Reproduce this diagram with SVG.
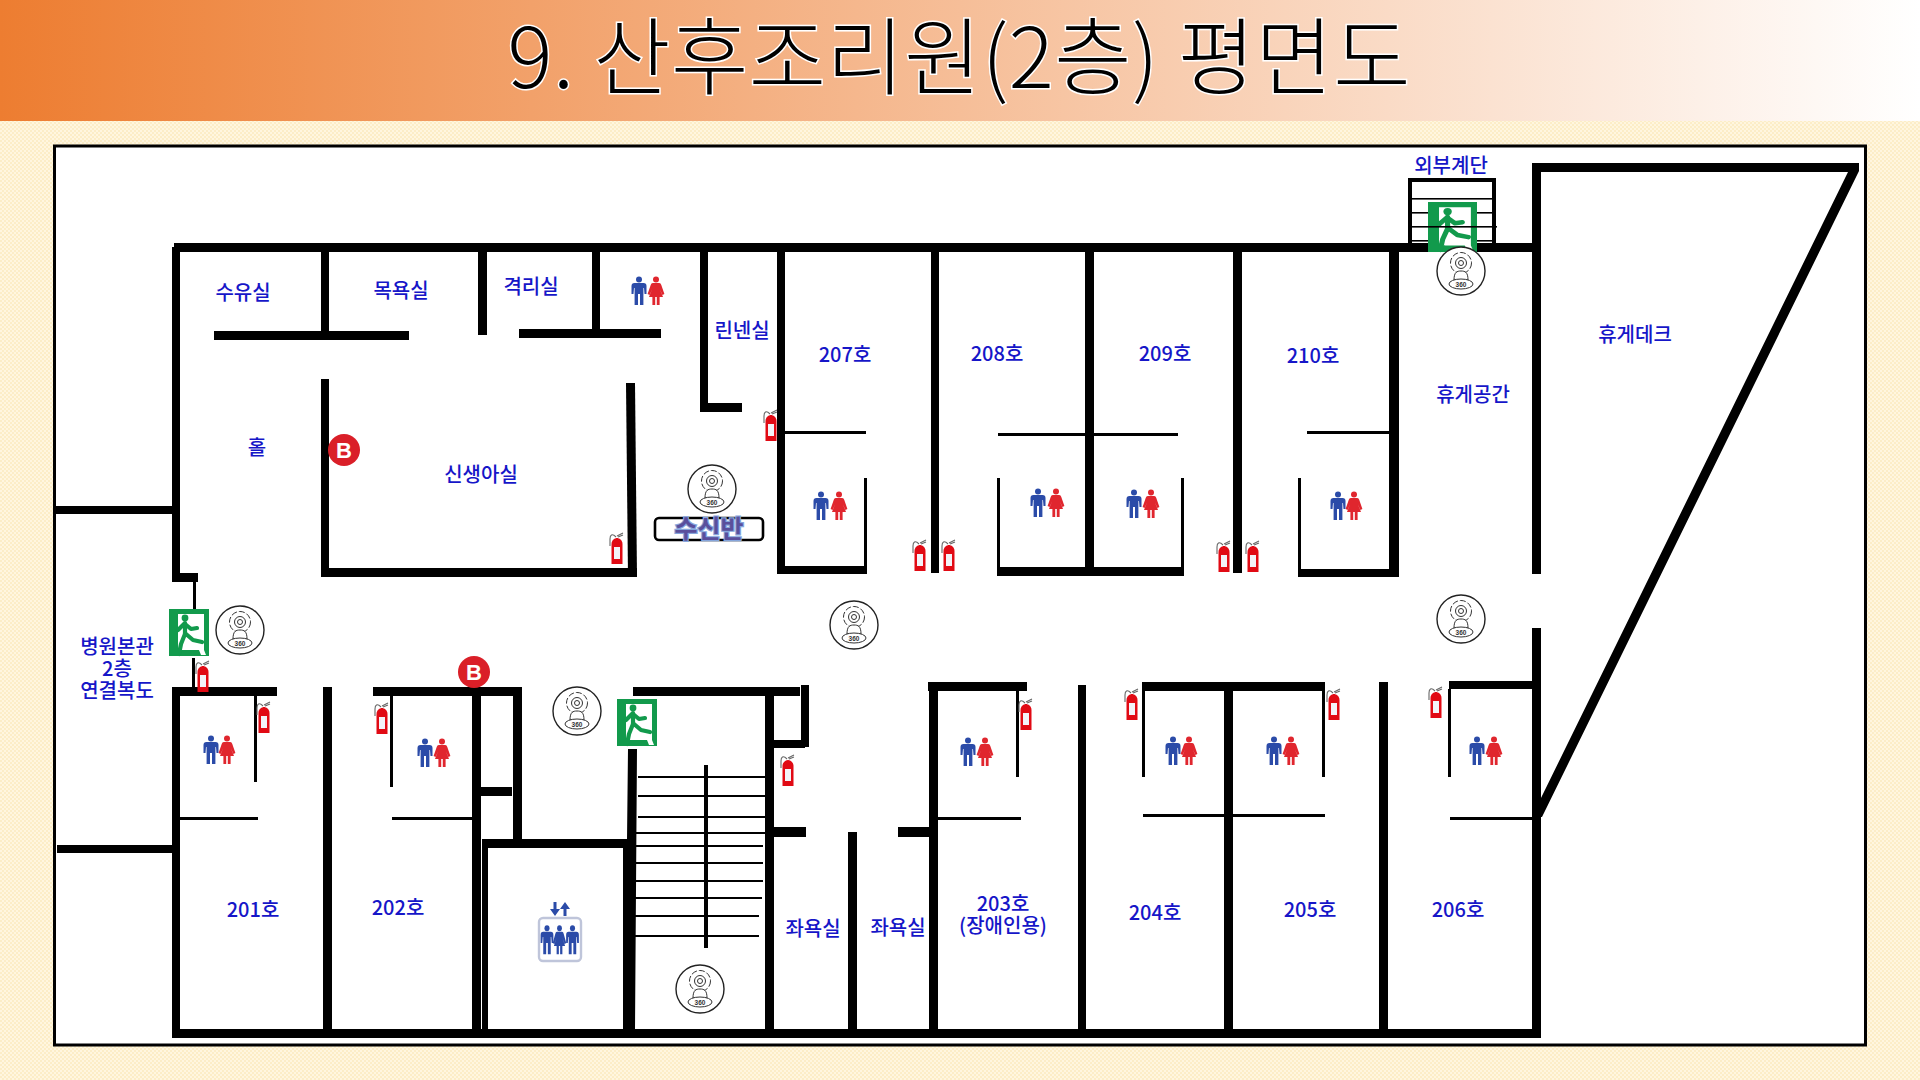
<svg xmlns="http://www.w3.org/2000/svg" xmlns:xlink="http://www.w3.org/1999/xlink" width="1920" height="1080" viewBox="0 0 1920 1080">
<style>
.lb{font-family:"Noto Sans CJK KR","Noto Sans",sans-serif;font-size:20px;font-weight:500;fill:#1616c8;text-anchor:middle}
.w{fill:#000}
</style>
<defs>
<linearGradient id="hdr" x1="0" x2="1" y1="0" y2="0"><stop offset="0" stop-color="#ED7D31"/><stop offset="1" stop-color="#FFFFFF"/></linearGradient>
<pattern id="dots" width="4" height="4" patternUnits="userSpaceOnUse"><rect width="4" height="4" fill="#FFF6DF"/><circle cx="1" cy="1" r="1" fill="#FCEBC0"/><circle cx="3" cy="3" r="1" fill="#FCEBC0"/></pattern>
<g id="cam">
<circle r="24" fill="#fff" stroke="#222" stroke-width="1.4"/>
<circle cy="-8" r="10.5" fill="#fff" stroke="#333" stroke-width="1" stroke-dasharray="6 2"/>
<circle cy="-8" r="5.5" fill="none" stroke="#333" stroke-width="1"/>
<circle cy="-8" r="2.5" fill="none" stroke="#333" stroke-width="1"/>
<path d="M-7 9C-7 1 -4 0 0 0S7 1 7 9Z" fill="#fff" stroke="#333" stroke-width="1"/>
<ellipse cy="13" rx="12" ry="5" fill="#fff" stroke="#333" stroke-width="1"/>
<text y="16" text-anchor="middle" font-family="Liberation Sans,sans-serif" font-size="6.5" font-weight="700" fill="#333">360</text>
</g>
<g id="ext">
<path d="M-1 -11C-5 -15 -7 -13 -7 -9V-2M0 -12L6 -15M1 -11L6 -13" fill="none" stroke="#666" stroke-width="1.1"/>
<path d="M-5.5 -4C-5.5 -8 -2 -10 0 -10S5.5 -8 5.5 -4V16H-5.5Z" fill="#E10A14"/>
<rect x="-3" y="-1" width="6" height="12" fill="#f3f3f8"/>
</g>
<g id="man" fill="currentColor">
<circle cy="-11.5" r="3"/>
<path d="M-4.5 -8H4.5Q7.5 -8 7.5 -5V3H5.5L5 -3H4.4V14H1V3H-1V14H-4.4V-3H-5L-5.5 3H-7.5V-5Q-7.5 -8 -4.5 -8Z"/>
</g>
<g id="wom" fill="currentColor">
<circle cy="-11.5" r="3"/>
<path d="M-3.2 -8H3.2Q4.8 -8 5.3 -6L8.4 3L6.4 4L3.8 -2L7 6H3.6V14H0.8V6H-0.8V14H-3.6V6H-7L-3.8 -2L-6.4 4L-8.4 3L-5.3 -6Q-4.8 -8 -3.2 -8Z"/>
</g>
<g id="exit">
<rect width="40" height="47" fill="#129A4C"/>
<path d="M9 5H35V41L37 46H32L30 41H13L9 44Z" fill="#fff"/>
<g fill="none" stroke="#129A4C" stroke-width="4.2" stroke-linecap="round" stroke-linejoin="round">
<path d="M16 14L16 25"/><path d="M15 15L9 21M16 15L22 20L28 19"/><path d="M16 25L12 35L10 45M17 25L24 31L33 33"/>
</g>
<circle cx="16" cy="9" r="3.4" fill="#129A4C"/>
<path d="M0 41H14L10 47H0Z" fill="#129A4C"/>
</g>
</defs>

<rect width="1920" height="1080" fill="url(#dots)"/>
<rect width="1920" height="121" fill="url(#hdr)"/>
<text x="959" y="88" text-anchor="middle" textLength="903" lengthAdjust="spacing" font-family="Noto Sans CJK KR,Noto Sans,sans-serif" font-size="84" font-weight="300" fill="#000" stroke="#fff" stroke-width="3" paint-order="stroke">9. 산후조리원(2층) 평면도</text>

<rect x="54.5" y="146" width="1811" height="899" fill="#fff" stroke="#000" stroke-width="3"/>

<g id="walls" class="w">
<rect x="174" y="243" width="1367" height="9"/>
<rect x="172" y="247" width="8" height="335"/>
<rect x="173" y="573" width="25" height="9"/>
<rect x="193" y="580" width="3" height="40"/>
<rect x="192" y="658" width="3" height="30"/>
<rect x="56" y="506" width="116" height="8"/>
<rect x="57" y="845" width="115" height="8"/>
<rect x="321" y="250" width="8" height="85"/>
<rect x="214" y="331" width="195" height="9"/>
<rect x="478" y="250" width="9" height="85"/>
<rect x="592" y="250" width="8" height="85"/>
<rect x="519" y="329" width="142" height="9"/>
<rect x="700" y="250" width="8" height="162"/>
<rect x="700" y="403" width="42" height="9"/>
<rect x="321" y="379" width="8" height="198"/>
<rect x="322" y="568" width="315" height="9"/>
<path d="M626 383H635L637 577H628Z"/>
<rect x="777" y="248" width="8" height="326"/>
<rect x="777" y="566" width="89" height="8"/>
<rect x="864" y="478" width="3" height="96"/>
<rect x="785" y="431" width="81" height="3"/>
<rect x="931" y="248" width="8" height="325"/>
<rect x="1085" y="248" width="9" height="326"/>
<rect x="997" y="567" width="186" height="9"/>
<rect x="997" y="478" width="3" height="98"/>
<rect x="1181" y="478" width="3" height="98"/>
<rect x="998" y="433" width="87" height="3"/>
<rect x="1094" y="433" width="84" height="3"/>
<rect x="1233" y="248" width="9" height="325"/>
<rect x="1389" y="248" width="10" height="329"/>
<rect x="1299" y="569" width="100" height="8"/>
<rect x="1298" y="478" width="3" height="99"/>
<rect x="1307" y="431" width="82" height="3"/>
<rect x="1532" y="163" width="9" height="411"/>
<rect x="1532" y="628" width="9" height="410"/>
<path d="M1532 163H1859V171L1542 817H1541V798L1848 172H1541V163Z"/>
<rect x="1408" y="178" width="88" height="4"/>
<rect x="1408" y="178" width="4" height="68"/>
<rect x="1492" y="178" width="4" height="68"/>
<rect x="1412" y="198" width="80" height="1.6"/>
<rect x="1412" y="212" width="80" height="1.6"/>
<rect x="1412" y="240" width="80" height="1.6"/>
<rect x="172" y="1029" width="1369" height="9"/>
<rect x="172" y="687" width="105" height="9"/>
<rect x="172" y="687" width="8" height="345"/>
<rect x="254" y="696" width="3" height="86"/>
<rect x="180" y="817" width="78" height="3"/>
<rect x="323" y="687" width="9" height="345"/>
<rect x="373" y="687" width="149" height="9"/>
<rect x="390" y="696" width="3" height="91"/>
<rect x="392" y="817" width="81" height="3"/>
<rect x="472" y="687" width="9" height="345"/>
<rect x="481" y="787" width="31" height="9"/>
<rect x="513" y="687" width="9" height="155"/>
<rect x="482" y="839" width="150" height="9"/>
<rect x="482" y="839" width="6" height="192"/>
<rect x="633" y="687" width="167" height="9"/>
<path d="M628 749H637L635 1030H623V840L627 840Z"/>
<rect x="765" y="687" width="9" height="345"/>
<rect x="773" y="740" width="32" height="8"/>
<rect x="801" y="685" width="8" height="62"/>
<rect x="773" y="827" width="33" height="10"/>
<rect x="704" y="765" width="4" height="183"/>
<rect x="638" y="776" width="127" height="2"/>
<rect x="638" y="795" width="127" height="2"/>
<rect x="638" y="816" width="127" height="2"/>
<rect x="635" y="832" width="130" height="2"/>
<rect x="635" y="845" width="128" height="2"/>
<rect x="634" y="862" width="129" height="2"/>
<rect x="634" y="880" width="129" height="2"/>
<rect x="634" y="897" width="128" height="2"/>
<rect x="634" y="915" width="125" height="2"/>
<rect x="634" y="935" width="125" height="2"/>
<rect x="848" y="832" width="9" height="200"/>
<rect x="898" y="827" width="31" height="10"/>
<rect x="928" y="682" width="99" height="9"/>
<rect x="929" y="682" width="9" height="350"/>
<rect x="1016" y="691" width="3" height="86"/>
<rect x="938" y="817" width="83" height="3"/>
<rect x="1078" y="685" width="8" height="347"/>
<rect x="1142" y="682" width="183" height="9"/>
<rect x="1142" y="691" width="3" height="86"/>
<rect x="1322" y="691" width="3" height="86"/>
<rect x="1224" y="682" width="9" height="350"/>
<rect x="1143" y="814" width="182" height="3"/>
<rect x="1379" y="682" width="9" height="350"/>
<rect x="1449" y="681" width="84" height="8"/>
<rect x="1448" y="689" width="3" height="88"/>
<rect x="1450" y="817" width="83" height="3"/>
</g>

<g id="exit-signs">
<use href="#exit" transform="translate(169 609)"/>
<use href="#exit" transform="translate(617 699)"/>
<use href="#exit" transform="translate(1428 202) scale(1.225 1.064)"/>
</g>
<rect x="1412" y="226" width="85" height="1.6" fill="#000"/>

<g id="cameras">
<use href="#cam" x="712" y="489"/>
<use href="#cam" x="854" y="625"/>
<use href="#cam" x="1461" y="271"/>
<use href="#cam" x="1461" y="619"/>
<use href="#cam" x="240" y="630"/>
<use href="#cam" x="577" y="711"/>
<use href="#cam" x="700" y="989"/>
</g>

<g id="extinguishers">
<use href="#ext" x="771" y="425"/>
<use href="#ext" x="617" y="548"/>
<use href="#ext" x="920" y="555"/>
<use href="#ext" x="949" y="555"/>
<use href="#ext" x="1224" y="556"/>
<use href="#ext" x="1253" y="556"/>
<use href="#ext" x="203" y="676"/>
<use href="#ext" x="264" y="717"/>
<use href="#ext" x="382" y="718"/>
<use href="#ext" x="788" y="770"/>
<use href="#ext" x="1026" y="714"/>
<use href="#ext" x="1132" y="704"/>
<use href="#ext" x="1334" y="704"/>
<use href="#ext" x="1436" y="702"/>
</g>

<g id="toilets">
<g style="color:#2B4BA8">
<use href="#man" x="639" y="291"/><use href="#man" x="821" y="506"/><use href="#man" x="1038" y="503"/><use href="#man" x="1134" y="504"/><use href="#man" x="1338" y="506"/><use href="#man" x="211" y="750"/><use href="#man" x="425" y="753"/><use href="#man" x="968" y="752"/><use href="#man" x="1173" y="751"/><use href="#man" x="1274" y="751"/><use href="#man" x="1477" y="751"/>
</g>
<g style="color:#E0262E">
<use href="#wom" x="656" y="291"/><use href="#wom" x="839" y="506"/><use href="#wom" x="1056" y="503"/><use href="#wom" x="1151" y="504"/><use href="#wom" x="1354" y="506"/><use href="#wom" x="227" y="750"/><use href="#wom" x="442" y="753"/><use href="#wom" x="985" y="752"/><use href="#wom" x="1189" y="751"/><use href="#wom" x="1291" y="751"/><use href="#wom" x="1494" y="751"/>
</g>
</g>

<g id="elevator">
<rect x="539" y="918" width="42" height="43" rx="4" fill="#fff" stroke="#BFC5DA" stroke-width="2.4"/>
<g style="color:#2B4BA8">
<use href="#man" transform="translate(547 940) scale(0.85 1.02)"/>
<use href="#wom" transform="translate(559.5 940) scale(0.8 1.02)"/>
<use href="#man" transform="translate(572.5 940) scale(0.85 1.02)"/>
</g>
<path d="M553.5 902H556.5V909H560L555 916L550 909H553.5ZM563.5 916H566.5V909H570L565 902L560 909H563.5Z" fill="#2B4BA8"/>
</g>

<g id="b-left"><circle cx="344" cy="450" r="16" fill="#DA1F28"/><text x="344" y="458" text-anchor="middle" font-family="Liberation Sans,sans-serif" font-size="22" font-weight="700" fill="#fff">B</text></g>
<g id="b-right"><circle cx="474" cy="672" r="16" fill="#DA1F28"/><text x="474" y="680" text-anchor="middle" font-family="Liberation Sans,sans-serif" font-size="22" font-weight="700" fill="#fff">B</text></g>

<g id="panel">
<rect x="655" y="518" width="108" height="22" rx="4" fill="#fff" stroke="#000" stroke-width="2.6"/>
<text x="709" y="538" text-anchor="middle" font-family="Noto Sans CJK KR,sans-serif" font-size="25" font-weight="700" fill="#5a4f9c" stroke="#86A6DC" stroke-width="2.4" paint-order="stroke">수신반</text>
</g>

<g id="labels">
<text class="lb" x="243" y="300">수유실</text>
<text class="lb" x="401" y="298">목욕실</text>
<text class="lb" x="531" y="294">격리실</text>
<text class="lb" x="742" y="338">린넨실</text>
<text class="lb" x="257" y="455">홀</text>
<text class="lb" x="481" y="482">신생아실</text>
<text class="lb" x="845" y="362">207호</text>
<text class="lb" x="997" y="361">208호</text>
<text class="lb" x="1165" y="361">209호</text>
<text class="lb" x="1313" y="363">210호</text>
<text class="lb" x="1473" y="402">휴게공간</text>
<text class="lb" x="1451" y="173">외부계단</text>
<text class="lb" x="1635" y="342">휴게데크</text>
<text class="lb" x="117" y="654">병원본관</text>
<text class="lb" x="117" y="676">2층</text>
<text class="lb" x="117" y="698">연결복도</text>
<text class="lb" x="253" y="917">201호</text>
<text class="lb" x="398" y="915">202호</text>
<text class="lb" x="813" y="936">좌욕실</text>
<text class="lb" x="898" y="935">좌욕실</text>
<text class="lb" x="1003" y="911">203호</text>
<text class="lb" x="1003" y="933">(장애인용)</text>
<text class="lb" x="1155" y="920">204호</text>
<text class="lb" x="1310" y="917">205호</text>
<text class="lb" x="1458" y="917">206호</text>
</g>
</svg>
